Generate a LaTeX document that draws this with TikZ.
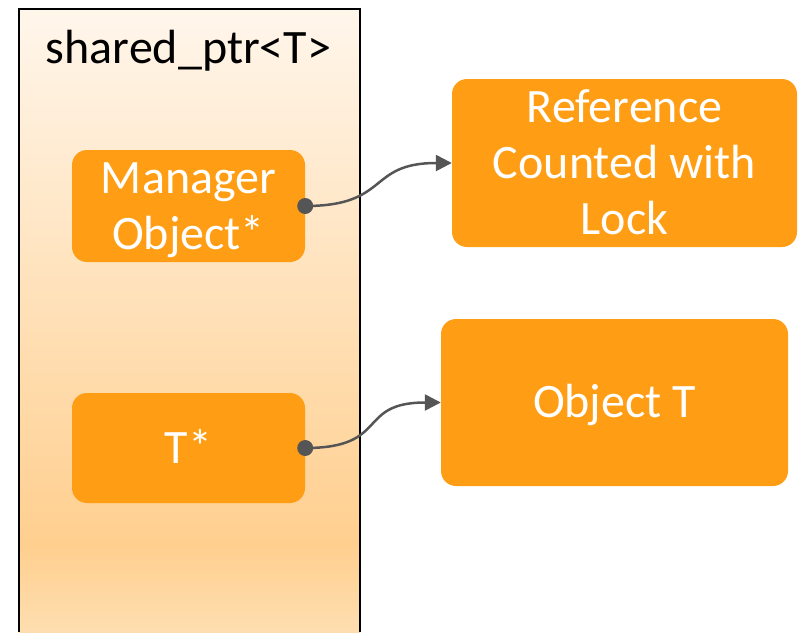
\documentclass[tikz,border=0pt]{standalone}
\usepackage{fontspec}
\setmainfont{Carlito}
\usetikzlibrary{arrows.meta}

\definecolor{boxorange}{RGB}{255,158,21}
\definecolor{linkgray}{RGB}{85,85,85}
\definecolor{fadetop}{RGB}{255,246,235}
\definecolor{fadedark}{RGB}{255,207,143}
\definecolor{fadebot}{RGB}{254,222,176}

% light at the top, darkest near the bottom edge
\pgfdeclareverticalshading{ptrfade}{100bp}{color(0bp)=(fadebot); color(25bp)=(fadebot);
  color(32bp)=(fadedark); color(75bp)=(fadetop); color(100bp)=(fadetop)}

\tikzset{
  field/.style={fill=boxorange, rounded corners=15pt, text=white, align=center,
    font=\fontsize{48}{56}\selectfont, text depth=0pt, text height=#1},
  field/.default=30pt,
  link/.style={draw=linkgray, line width=2.5pt, -{Triangle[length=16pt,width=16pt]}}
}

\begin{document}
\begin{tikzpicture}[x=1pt, y=-1pt]
  \useasboundingbox (0,0) rectangle (802,632);

  % the shared_ptr itself
  \shade[shading=ptrfade] (19,9) rectangle (360,632);
  \draw[line width=2pt] (19,632) -- (19,9) -- (360,9) -- (360,632);
  \node[anchor=base, font=\fontsize{48}{56}\selectfont] (title) at (188.5,63) {shared\_ptr<T>};

  \node[field=86pt, minimum width=233pt, minimum height=112pt] (mgr) at (188.5,206) {Manager\\Object*};
  \node[field, minimum width=233pt, minimum height=110pt] (tptr) at (188.5,448) {T*};

  % what it points to
  \node[field=142pt, minimum width=345pt, minimum height=168pt] (ref) at (624.5,163) {Reference\\Counted with\\Lock};
  \node[field, minimum width=347pt, minimum height=167pt] (obj) at (614.5,402.5) {Object T};

  \fill[linkgray] (mgr.east) circle[radius=8pt];
  \draw[link] (mgr.east) .. controls +(85,0) and +(-85,0) .. (ref.west);
  \fill[linkgray] (tptr.east) circle[radius=8pt];
  \draw[link] (tptr.east) .. controls +(85,0) and +(-85,0) .. (obj.west);
\end{tikzpicture}
\end{document}
